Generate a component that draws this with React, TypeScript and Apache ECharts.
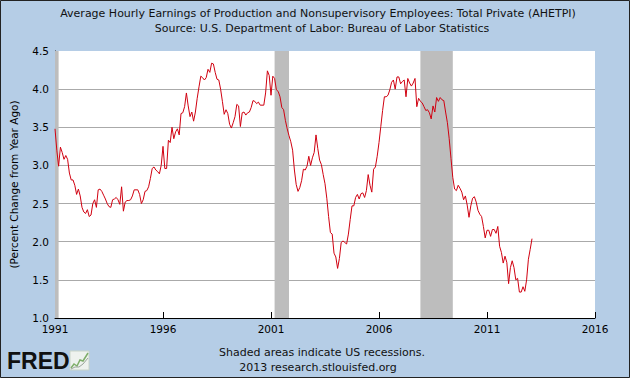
import React, { useEffect, useRef } from "react";
import * as echarts from "echarts";

const startYear = 1991;
const xTickStep = 5;
const xSpanYears = 25;
const yMin = 1.0;
const yMax = 4.5;
const yStep = 0.5;

const v1991 = [3.48, 3.2, 2.99, 3.24, 3.17, 3.08, 3.13, 3.08, 2.9, 2.81, 2.81, 2.74];
const v1992 = [2.62, 2.69, 2.6, 2.45, 2.39, 2.37, 2.42, 2.33, 2.35, 2.5, 2.55, 2.45];
const v1993 = [2.68, 2.69, 2.66, 2.61, 2.56, 2.5, 2.46, 2.45, 2.55, 2.56, 2.58, 2.55];
const v1994 = [2.49, 2.72, 2.4, 2.52, 2.54, 2.54, 2.55, 2.6, 2.68, 2.68, 2.68, 2.62];
const v1995 = [2.5, 2.55, 2.66, 2.67, 2.72, 2.83, 2.96, 2.98, 2.94, 2.92, 2.89, 3.0];
const v1996 = [3.25, 2.96, 2.96, 3.33, 3.3, 3.5, 3.35, 3.44, 3.48, 3.4, 3.68, 3.69];
const v1997 = [3.77, 3.95, 3.78, 3.64, 3.7, 3.58, 3.7, 3.88, 4.03, 4.17, 4.15, 4.12];
const v1998 = [4.15, 4.26, 4.22, 4.34, 4.33, 4.22, 4.13, 4.12, 4.0, 3.84, 3.67, 3.73];
const v1999 = [3.68, 3.54, 3.49, 3.56, 3.64, 3.8, 3.78, 3.51, 3.69, 3.7, 3.66, 3.69];
const v2000 = [3.7, 3.76, 3.85, 3.84, 3.81, 3.83, 3.79, 3.79, 3.79, 3.95, 4.24, 4.18];
const v2001 = [3.92, 4.17, 4.14, 3.99, 3.97, 3.9, 3.76, 3.73, 3.59, 3.48, 3.39, 3.31];
const v2002 = [3.2, 2.94, 2.75, 2.66, 2.71, 2.8, 2.95, 2.94, 2.99, 3.12, 3.0, 3.1];
const v2003 = [3.17, 3.4, 3.22, 3.07, 3.01, 2.88, 2.76, 2.57, 2.33, 2.12, 2.1, 1.85];
const v2004 = [1.8, 1.65, 1.78, 1.99, 2.01, 1.99, 1.97, 2.1, 2.29, 2.47, 2.47, 2.58];
const v2005 = [2.62, 2.56, 2.63, 2.64, 2.58, 2.67, 2.88, 2.74, 2.65, 2.95, 2.98, 3.12];
const v2006 = [3.3, 3.51, 3.72, 3.9, 3.9, 3.92, 3.99, 4.09, 4.12, 4.0, 4.16, 4.16];
const v2007 = [4.07, 4.1, 4.12, 3.9, 4.14, 4.08, 4.04, 4.08, 4.14, 3.77, 3.88, 3.84];
const v2008 = [3.82, 3.77, 3.72, 3.73, 3.69, 3.61, 3.78, 3.7, 3.89, 3.84, 3.89, 3.86];
const v2009 = [3.85, 3.7, 3.56, 3.35, 3.09, 2.84, 2.69, 2.67, 2.74, 2.7, 2.65, 2.55];
const v2010 = [2.6, 2.48, 2.32, 2.47, 2.57, 2.59, 2.52, 2.41, 2.36, 2.33, 2.2, 2.05];
const v2011 = [2.15, 2.15, 2.07, 2.16, 2.16, 2.11, 2.2, 1.94, 1.86, 1.72, 1.81, 1.73];
const v2012 = [1.45, 1.66, 1.75, 1.66, 1.5, 1.52, 1.34, 1.34, 1.41, 1.35, 1.5, 1.77];
const v2013 = [1.9, 2.04];

// recessions: [startYear, startMonth, endYear, endMonth]
const recessions = [
  [1990, 7, 1991, 3],
  [2001, 3, 2001, 11],
  [2007, 12, 2009, 6],
];

const titleLine1 = "Average Hourly Earnings of Production and Nonsupervisory Employees: Total Private (AHETPI)";
const titleLine2 = "Source: U.S. Department of Labor: Bureau of Labor Statistics";
const yAxisTitle = "(Percent Change from Year Ago)";
const footer1 = "Shaded areas indicate US recessions.";
const footer2 = "2013 research.stlouisfed.org";

const FONT = "'DejaVu Sans', Verdana, sans-serif";

export default function App() {
  const ref = useRef<HTMLDivElement>(null);
  useEffect(() => {
    document.body.style.margin = "0";
    if (!ref.current) return;
    const chart = echarts.init(ref.current, null, { renderer: "svg" });
    const all = [
      ...v1991, ...v1992, ...v1993, ...v1994, ...v1995, ...v1996, ...v1997, ...v1998,
      ...v1999, ...v2000, ...v2001, ...v2002, ...v2003, ...v2004, ...v2005, ...v2006,
      ...v2007, ...v2008, ...v2009, ...v2010, ...v2011, ...v2012, ...v2013,
    ];
    const data = all.map((v, i) => [i / 12, v]);
    const toX = (y: number, m: number) => Math.max(0, y - startYear + (m - 1) / 12);
    const areas = recessions.map((r) => [
      { xAxis: toX(r[0], r[1]) },
      { xAxis: toX(r[2], r[3]) },
    ]);

    chart.setOption({
      animation: false,
      backgroundColor: "#b5cde6",
      textStyle: { fontFamily: FONT },
      grid: {
        left: 55,
        right: 35,
        top: 51,
        bottom: 60,
        show: true,
        backgroundColor: "#ffffff",
        borderWidth: 0,
      },
      xAxis: {
        type: "value",
        min: 0,
        max: xSpanYears,
        interval: xTickStep,
        axisLine: { show: true, lineStyle: { color: "#000", width: 1 } },
        axisTick: { show: true, inside: true, length: 6, lineStyle: { color: "#000" } },
        splitLine: { show: false },
        axisLabel: {
          formatter: (v: number) => String(startYear + v),
          color: "#000",
          fontSize: 10.5,
          fontFamily: FONT,
          margin: 5,
        },
      },
      yAxis: {
        type: "value",
        min: yMin,
        max: yMax,
        interval: yStep,
        name: yAxisTitle,
        nameLocation: "middle",
        nameRotate: 90,
        nameGap: 36,
        nameTextStyle: { color: "#000", fontSize: 10.5, fontFamily: FONT },
        axisLine: { show: true, lineStyle: { color: "#000", width: 1 } },
        axisTick: { show: false },
        splitLine: { show: true, showMaxLine: false, lineStyle: { color: "#aaaaaa", width: 1 } },
        axisLabel: {
          formatter: (v: number) => v.toFixed(1),
          color: "#000",
          fontSize: 10.5,
          fontFamily: FONT,
          margin: 6,
        },
      },
      series: [
        {
          type: "line",
          data,
          showSymbol: false,
          symbol: "none",
          lineStyle: { color: "#d00010", width: 1 },
          markArea: {
            silent: true,
            itemStyle: { color: "#bdbdbd", opacity: 1 },
            data: areas,
          },
        },
      ],
      graphic: [
        {
          type: "rect",
          shape: { x: 0.5, y: 0.5, width: 629, height: 377 },
          style: { fill: "none", stroke: "#222", lineWidth: 1 },
          z: 10,
        },
        {
          type: "text",
          x: 318,
          y: 13,
          style: { text: titleLine1, align: "center", verticalAlign: "middle", fill: "#111", font: `11px ${FONT}` },
        },
        {
          type: "text",
          x: 322,
          y: 28,
          style: { text: titleLine2, align: "center", verticalAlign: "middle", fill: "#111", font: `11px ${FONT}` },
        },
        {
          type: "text",
          x: 322,
          y: 352,
          style: { text: footer1, align: "center", verticalAlign: "middle", fill: "#111", font: `11px ${FONT}` },
        },
        {
          type: "text",
          x: 318,
          y: 367,
          style: { text: footer2, align: "center", verticalAlign: "middle", fill: "#111", font: `11px ${FONT}` },
        },
        {
          type: "text",
          x: 7,
          y: 361,
          style: { text: "FRED", align: "left", verticalAlign: "middle", fill: "#111", font: `bold 23px 'Liberation Sans', Arial, sans-serif` },
        },
        {
          type: "rect",
          shape: { x: 70, y: 351, width: 19, height: 19 },
          style: { fill: "#eef2ee", stroke: "#c8d4c8", lineWidth: 1 },
        },
        {
          type: "polyline",
          shape: { points: [[71, 368], [74, 364], [77, 366], [80, 360], [83, 361], [88, 353]] },
          style: { stroke: "#7fae6a", lineWidth: 1.5, fill: "none" },
        },
        {
          type: "polyline",
          shape: { points: [[71, 369], [75, 367], [79, 367], [83, 364], [88, 358]] },
          style: { stroke: "#9aa59a", lineWidth: 1, fill: "none" },
        },
      ],
    });
    return () => chart.dispose();
  }, []);
  return <div ref={ref} style={{ width: 630, height: 378 }} />;
}
